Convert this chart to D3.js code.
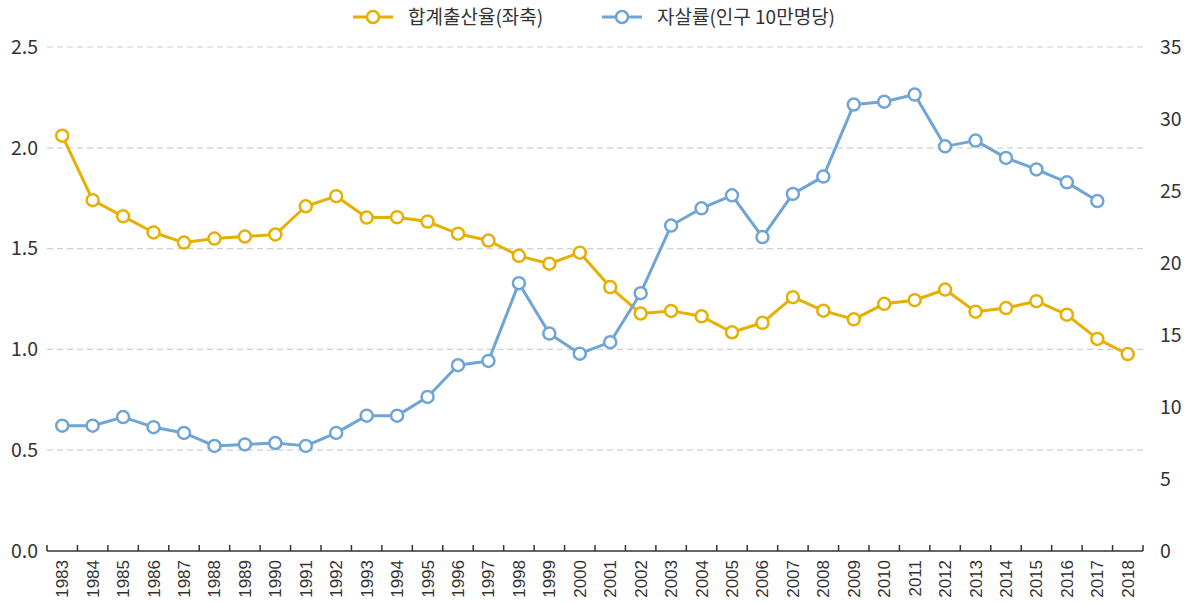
<!DOCTYPE html>
<html>
<head>
<meta charset="utf-8">
<script src="https://cdn.jsdelivr.net/npm/d3@7"></script>
<style>
  body { margin: 0; background: #fff; }
  svg text { font-family: "Noto Sans CJK KR", "Noto Sans", sans-serif; fill: #333; }
  .xlab text { font-family: "Liberation Sans Narrow", "Liberation Sans", sans-serif; }
</style>
</head>
<body>
<svg id="chart" width="1197" height="603"></svg>
<script>
// data
const years = d3.range(1983, 2019).map(String);
const fertility = [2.06, 1.74, 1.66, 1.58, 1.53, 1.55, 1.56, 1.57, 1.71, 1.76,
  1.654, 1.656, 1.634, 1.574, 1.54, 1.464, 1.425, 1.48, 1.309, 1.178,
  1.191, 1.164, 1.085, 1.132, 1.259, 1.192, 1.149, 1.226, 1.244, 1.297,
  1.187, 1.205, 1.239, 1.172, 1.052, 0.977];
const suicide = [8.7, 8.7, 9.3, 8.6, 8.2, 7.3, 7.4, 7.5, 7.3, 8.2,
  9.4, 9.4, 10.7, 12.9, 13.2, 18.6, 15.1, 13.7, 14.5, 17.9,
  22.6, 23.8, 24.7, 21.8, 24.8, 26.0, 31.0, 31.2, 31.7, 28.1,
  28.5, 27.3, 26.5, 25.6, 24.3, null];
const leftTicks = [0, 0.5, 1.0, 1.5, 2.0, 2.5];
const rightTicks = [0, 5, 10, 15, 20, 25, 30, 35];
const seriesNames = ["합계출산율(좌축)", "자살률(인구 10만명당)"];
const colors = ["#E6B000", "#6FA5D6"];

const svg = d3.select("#chart");
const margin = { top: 47, right: 54, bottom: 52, left: 47 };
const width = 1197 - margin.left - margin.right;
const height = 603 - margin.top - margin.bottom;

const g = svg.append("g").attr("transform", `translate(${margin.left},${margin.top})`);

const x = d3.scaleBand().domain(years).range([0, width]);
const yL = d3.scaleLinear().domain([0, 2.5]).range([height, 0]);
const yR = d3.scaleLinear().domain([0, 35]).range([height, 0]);

// grid
g.append("g")
  .selectAll("line")
  .data(leftTicks.filter(d => d > 0))
  .join("line")
  .attr("x1", 0).attr("x2", width)
  .attr("y1", d => yL(d)).attr("y2", d => yL(d))
  .attr("stroke", "#cfcfcf")
  .attr("stroke-width", 1.2)
  .attr("stroke-dasharray", "6,4");

// left axis labels
g.append("g")
  .selectAll("text")
  .data(leftTicks)
  .join("text")
  .attr("x", -9)
  .attr("y", d => yL(d))
  .attr("dy", "0.35em")
  .attr("text-anchor", "end")
  .attr("font-size", 19.5)
  .text(d => d.toFixed(1));

// right axis labels
g.append("g")
  .selectAll("text")
  .data(rightTicks)
  .join("text")
  .attr("x", width + 17)
  .attr("y", d => yR(d))
  .attr("dy", "0.35em")
  .attr("text-anchor", "start")
  .attr("font-size", 19.5)
  .text(d => d);

// x axis
const xAxis = g.append("g").attr("transform", `translate(0,${height})`);
xAxis.append("line")
  .attr("x1", 0).attr("x2", width)
  .attr("stroke", "#333").attr("stroke-width", 1.5);
xAxis.selectAll(".tick")
  .data(years.concat(["end"]))
  .join("line")
  .attr("class", "tick")
  .attr("x1", (d, i) => i * x.bandwidth())
  .attr("x2", (d, i) => i * x.bandwidth())
  .attr("y1", 0).attr("y2", -6)
  .attr("stroke", "#333").attr("stroke-width", 1.5);
xAxis.append("g").attr("class", "xlab")
  .selectAll("text")
  .data(years)
  .join("text")
  .attr("transform", d => `translate(${x(d) + x.bandwidth() / 2},9) rotate(-90)`)
  .attr("text-anchor", "end")
  .attr("dy", "0.35em")
  .attr("font-size", 17)
  .text(d => d);

// lines
function drawSeries(values, yScale, color) {
  const pts = values.map((v, i) => ({ year: years[i], v })).filter(d => d.v != null);
  const line = d3.line()
    .x(d => x(d.year) + x.bandwidth() / 2)
    .y(d => yScale(d.v));
  g.append("path")
    .datum(pts)
    .attr("d", line)
    .attr("fill", "none")
    .attr("stroke", color)
    .attr("stroke-width", 3)
    .attr("stroke-linejoin", "round");
  g.append("g")
    .selectAll("circle")
    .data(pts)
    .join("circle")
    .attr("cx", d => x(d.year) + x.bandwidth() / 2)
    .attr("cy", d => yScale(d.v))
    .attr("r", 6)
    .attr("fill", "#fff")
    .attr("stroke", color)
    .attr("stroke-width", 2.5);
}
drawSeries(fertility, yL, colors[0]);
drawSeries(suicide, yR, colors[1]);

// legend
const legendX = [353, 602];
const legend = svg.append("g");
seriesNames.forEach((name, i) => {
  const lg = legend.append("g").attr("transform", `translate(${legendX[i]},17)`);
  lg.append("line").attr("x1", 0).attr("x2", 40)
    .attr("stroke", colors[i]).attr("stroke-width", 3);
  lg.append("circle").attr("cx", 20).attr("r", 6)
    .attr("fill", "#fff").attr("stroke", colors[i]).attr("stroke-width", 2.5);
  lg.append("text").attr("x", 55).attr("dy", "0.35em")
    .attr("font-size", 19).text(name);
});
</script>
</body>
</html>
